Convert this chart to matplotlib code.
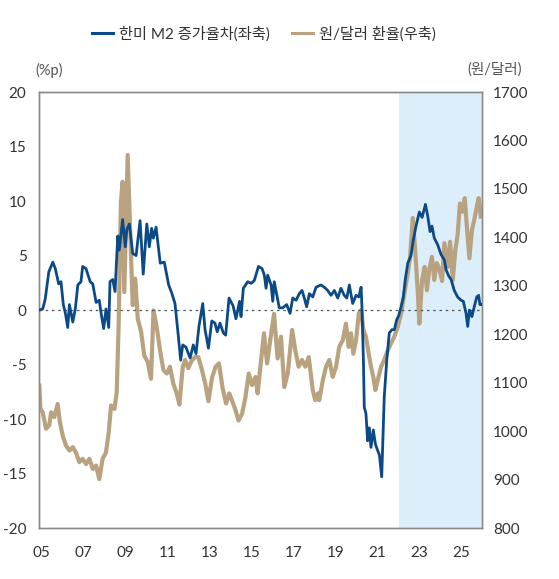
import numpy as np
import matplotlib
matplotlib.use("Agg")
import matplotlib.pyplot as plt

plt.rcParams['font.family'] = ['Lato', 'Noto Sans CJK KR', 'DejaVu Sans']
plt.rcParams['axes.unicode_minus'] = False

# 한미 M2 증가율차 (%p)
m2_year = [2004.92, 2005.08, 2005.20, 2005.37, 2005.56, 2005.68, 2005.84, 2005.95,
           2006.06, 2006.16, 2006.27, 2006.35, 2006.51, 2006.63, 2006.75, 2006.90,
           2006.98, 2007.14, 2007.22, 2007.34, 2007.46, 2007.62, 2007.77, 2007.85,
           2007.98, 2008.09, 2008.22, 2008.28, 2008.41, 2008.52, 2008.65, 2008.72,
           2008.88, 2009.01, 2009.08, 2009.20, 2009.36, 2009.52, 2009.71, 2009.86,
           2010.03, 2010.15, 2010.26, 2010.34, 2010.47, 2010.67, 2010.86, 2010.98,
           2011.07, 2011.21, 2011.37, 2011.53, 2011.64, 2011.74, 2011.89, 2012.09,
           2012.24, 2012.37, 2012.51, 2012.69, 2012.80, 2012.96, 2013.12, 2013.27,
           2013.38, 2013.51, 2013.67, 2013.78, 2013.94, 2014.13, 2014.27, 2014.44,
           2014.51, 2014.62, 2014.83, 2014.99, 2015.14, 2015.34, 2015.51, 2015.62,
           2015.70, 2015.78, 2015.94, 2016.02, 2016.09, 2016.17, 2016.33, 2016.49,
           2016.68, 2016.84, 2016.97, 2017.13, 2017.28, 2017.41, 2017.52, 2017.63,
           2017.76, 2017.92, 2018.08, 2018.31, 2018.47, 2018.63, 2018.79, 2018.95,
           2019.11, 2019.26, 2019.42, 2019.54, 2019.66, 2019.82, 2019.98, 2020.11,
           2020.22, 2020.26, 2020.33, 2020.37, 2020.45, 2020.53, 2020.61, 2020.69,
           2020.80, 2020.90, 2021.01, 2021.09, 2021.20, 2021.32, 2021.44, 2021.56,
           2021.69, 2021.80, 2021.91, 2022.01, 2022.12, 2022.23, 2022.32, 2022.44,
           2022.59, 2022.70, 2022.83, 2022.99, 2023.12, 2023.28, 2023.39, 2023.50,
           2023.59, 2023.70, 2023.86, 2024.02, 2024.18, 2024.26, 2024.39, 2024.50,
           2024.65, 2024.81, 2024.97, 2025.08, 2025.21, 2025.29, 2025.37, 2025.49,
           2025.60, 2025.72, 2025.81, 2025.87, 2025.94]
m2_gap = [0.0, 0.1, 1.0, 3.5, 4.4, 3.8, 2.4, 2.6,
          0.5, -0.3, -1.6, 0.5, -1.1, 0.1, 2.3, 2.6,
          4.0, 3.8, 3.3, 2.6, 2.4, 0.7, 0.9, -0.2,
          -1.7, 0.1, -1.6, 2.6, 2.8, 1.7, 6.8, 5.5,
          8.3, 5.8, 7.4, 7.9, 5.2, 5.0, 8.2, 3.3,
          7.9, 5.8, 7.5, 6.6, 7.6, 4.3, 4.4, 3.2,
          2.3, 1.6, 0.6, -2.4, -4.6, -3.2, -3.4, -4.4,
          -3.2, -4.0, -1.5, 0.6, -1.8, -3.5, -1.0, -1.2,
          -2.0, -1.2, -2.1, -2.3, 1.1, 0.4, -0.8, 0.8,
          -0.6, 2.0, 2.6, 2.45, 2.7, 4.0, 3.8, 3.2,
          2.0, 3.2, 2.3, 0.8, 2.6, 1.8, 0.2, 0.2,
          0.5, -0.3, 1.1, 0.9, 1.5, 1.8, 1.1, 0.3,
          1.5, 1.2, 2.1, 2.3, 2.1, 1.8, 1.35, 1.8,
          1.1, 2.0, 1.35, 1.1, 2.3, 0.6, 1.35, 1.2,
          2.1, 0.3, -4.6, -8.9, -9.5, -12.0, -10.8, -12.6,
          -11.0, -12.3, -12.9, -13.3, -15.3, -8.0, -4.6, -2.1,
          -1.8, -1.8, -0.9, -0.5, 0.3, 1.2, 2.8, 4.3,
          5.0, 6.4, 7.7, 9.0, 8.5, 9.7, 8.6, 7.2,
          7.7, 6.6, 6.0, 5.1, 4.6, 3.7, 3.1, 2.8,
          1.8, 1.2, 0.9, 0.8, -0.3, -1.5, 0.0, -0.6,
          0.3, 1.2, 1.35, 0.5, 0.5]

# 원/달러 환율
fx_year = [2004.92, 2004.97, 2005.08, 2005.24, 2005.39, 2005.48, 2005.63, 2005.79,
           2005.90, 2006.03, 2006.19, 2006.35, 2006.51, 2006.66, 2006.82, 2006.98,
           2007.14, 2007.30, 2007.46, 2007.62, 2007.77, 2007.93, 2008.09, 2008.22,
           2008.33, 2008.49, 2008.60, 2008.69, 2008.80, 2008.88, 2008.96, 2009.04,
           2009.12, 2009.23, 2009.36, 2009.48, 2009.60, 2009.76, 2009.91, 2010.07,
           2010.23, 2010.35, 2010.50, 2010.66, 2010.82, 2010.98, 2011.13, 2011.29,
           2011.45, 2011.58, 2011.74, 2011.85, 2012.00, 2012.16, 2012.32, 2012.48,
           2012.63, 2012.80, 2012.96, 2013.13, 2013.30, 2013.46, 2013.63, 2013.80,
           2013.95, 2014.11, 2014.25, 2014.39, 2014.56, 2014.72, 2014.88, 2015.03,
           2015.20, 2015.30, 2015.46, 2015.60, 2015.75, 2015.89, 2016.08, 2016.25,
           2016.41, 2016.57, 2016.73, 2016.94, 2017.09, 2017.25, 2017.41, 2017.57,
           2017.73, 2017.92, 2018.04, 2018.17, 2018.23, 2018.40, 2018.55, 2018.71,
           2018.87, 2019.03, 2019.18, 2019.35, 2019.50, 2019.63, 2019.74, 2019.85,
           2019.98, 2020.11, 2020.22, 2020.33, 2020.45, 2020.58, 2020.69, 2020.80,
           2020.90, 2021.01, 2021.17, 2021.32, 2021.49, 2021.64, 2021.80, 2021.96,
           2022.12, 2022.28, 2022.44, 2022.55, 2022.68, 2022.78, 2022.91, 2022.99,
           2023.12, 2023.24, 2023.35, 2023.46, 2023.59, 2023.70, 2023.82, 2023.94,
           2024.07, 2024.18, 2024.34, 2024.45, 2024.58, 2024.70, 2024.81, 2024.92,
           2025.05, 2025.15, 2025.25, 2025.37, 2025.49, 2025.60, 2025.72, 2025.81,
           2025.91]
fx_krw = [1094, 1046, 1039, 1005, 1012, 1039, 1029, 1056,
          1018, 991, 970, 960, 967, 956, 936, 943,
          932, 943, 922, 929, 901, 943, 956, 998,
          1053, 1046, 1080, 1218, 1473, 1515, 1287, 1425,
          1570, 1425, 1260, 1315, 1232, 1205, 1156, 1143,
          1108, 1249, 1215, 1167, 1126, 1119, 1133, 1098,
          1078, 1055, 1133, 1147, 1130, 1145, 1153, 1153,
          1130, 1100, 1062, 1110, 1133, 1140, 1090, 1057,
          1078, 1060, 1043, 1022, 1036, 1070, 1119, 1095,
          1112, 1078, 1143, 1202, 1140, 1185, 1242, 1150,
          1195, 1091, 1119, 1209, 1167, 1133, 1147, 1133,
          1153, 1085, 1064, 1078, 1064, 1105, 1133, 1147,
          1112, 1133, 1174, 1188, 1222, 1174, 1202, 1160,
          1188, 1243, 1250, 1209, 1195, 1160, 1133, 1112,
          1085, 1105, 1133, 1147, 1167, 1181, 1195, 1215,
          1243, 1284, 1326, 1360, 1440, 1381, 1291, 1222,
          1312, 1339, 1291, 1333, 1360, 1312, 1347, 1335,
          1310, 1388, 1339, 1391, 1312, 1374, 1405, 1470,
          1453, 1481, 1422, 1357, 1415, 1436, 1463, 1481,
          1443]

shade_start, shade_end = 2022.0, 2026.0
year_ticks = list(range(2005, 2026, 2))
year_labels = ['%02d' % (y % 100) for y in year_ticks]

blue = '#0b4a87'
tan = '#b9a27f'
grey = '#8a8a8a'
text_c = '#333333'

fig = plt.figure(figsize=(5.59, 5.79), dpi=100)
ax = fig.add_axes([0.0698, 0.088, 0.7925, 0.753])
ax2 = ax.twinx()
ax.set_zorder(2)
ax2.set_zorder(1)
ax.patch.set_visible(False)

ax2.axvspan(shade_start, shade_end, color='#ddeefb', lw=0, zorder=0)
ax2.plot(fx_year, fx_krw, color=tan, lw=3.0, solid_joinstyle='round', zorder=2)
ax.axhline(0, color='#555555', lw=0.9, ls=(0, (2, 3)), zorder=1)
ax.plot(m2_year, m2_gap, color=blue, lw=2.0, solid_joinstyle='round', zorder=3)

ax.set_xlim(2004.905, 2025.97)
ax.set_ylim(-20, 20)
ax2.set_ylim(800, 1700)
ax.set_yticks(np.arange(-20, 21, 5))
ax2.set_yticks(np.arange(800, 1701, 100))
ax.set_xticks(year_ticks)
ax.set_xticklabels(year_labels)

ax.tick_params(axis='y', length=0, pad=9, labelsize=11, labelcolor=text_c)
ax.tick_params(axis='x', length=0, pad=13, labelsize=11, labelcolor=text_c)
ax2.tick_params(axis='y', length=0, pad=8, labelsize=11, labelcolor=text_c)

for a in (ax, ax2):
    for s in a.spines.values():
        s.set_color(grey)
        s.set_linewidth(1.0)

fig.text(0.063, 1 - 70 / 579, '(%p)', ha='left', va='center', fontsize=10.5, color='#555555')
fig.text(0.885, 1 - 70 / 579, '(원/달러)', ha='center', va='center', fontsize=10.5, color='#555555')

handles = [plt.Line2D([], [], color=blue, lw=2.2), plt.Line2D([], [], color=tan, lw=2.2)]
fig.legend(handles, ['한미 M2 증가율차(좌축)', '원/달러 환율(우축)'],
           loc='center', bbox_to_anchor=(264 / 559, 1 - 34 / 579), ncol=2, frameon=False,
           fontsize=11, handlelength=1.4, handletextpad=0.4, columnspacing=1.4,
           labelcolor=text_c)

fig.savefig('out.png', dpi=100)
